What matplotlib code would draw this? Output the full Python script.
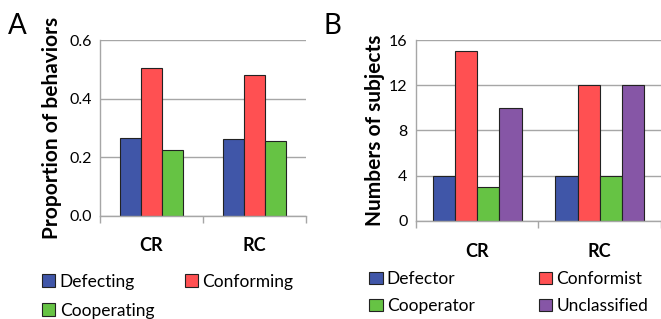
import numpy as np
import matplotlib.pyplot as plt

plt.rcParams['font.family'] = ['Lato', 'DejaVu Sans']

# data
groups = ['CR', 'RC']
behaviors = ['Defecting', 'Conforming', 'Cooperating']
proportions = {
    'Defecting': [0.267, 0.263],
    'Conforming': [0.506, 0.480],
    'Cooperating': [0.226, 0.255],
}
types = ['Defector', 'Conformist', 'Cooperator', 'Unclassified']
subjects = {
    'Defector': [4, 4],
    'Conformist': [15, 12],
    'Cooperator': [3, 4],
    'Unclassified': [10, 12],
}

blue = '#4056A8'
red = '#FF5052'
green = '#66C344'
purple = '#8656A6'
grid_c = '#A6A6A6'

fig = plt.figure(figsize=(6.61, 3.19), dpi=100)
axA = fig.add_axes([0.1513, 0.3229, 0.3117, 0.5517])
axB = fig.add_axes([0.6293, 0.3080, 0.3707, 0.5665])


def style(ax):
    ax.set_axisbelow(True)
    ax.yaxis.grid(True, color=grid_c, lw=1)
    for s in ['top', 'right']:
        ax.spines[s].set_visible(False)
    for s in ['left', 'bottom']:
        ax.spines[s].set_color(grid_c)
        ax.spines[s].set_linewidth(1)
    ax.tick_params(axis='y', length=0, labelsize=11.5, pad=6)
    ax.set_xlim(-0.5, 1.5)
    ax.set_xticks([-0.5, 0.5, 1.5])
    ax.set_xticklabels([])
    ax.tick_params(axis='x', length=5, color=grid_c, width=1)
    for xi, g in enumerate(groups):
        ax.text(xi, -0.17, g, transform=ax.get_xaxis_transform(),
                ha='center', va='center', fontsize=13, fontweight='bold')


x = np.arange(len(groups))

# panel A
w = 0.204
colsA = [blue, red, green]
barsA = {}
for i, (b, c) in enumerate(zip(behaviors, colsA)):
    barsA[b] = axA.bar(x + (i - 1) * w, proportions[b], w, color=c,
                       edgecolor='#222222', lw=0.8, label=b)
axA.set_ylim(0, 0.6)
axA.set_yticks([0, 0.2, 0.4, 0.6])
axA.set_yticklabels(['0.0', '0.2', '0.4', '0.6'])
style(axA)
axA.set_ylabel('Proportion of behaviors', fontsize=15, fontweight='bold', labelpad=5)

# panel B
wb = 0.181
colsB = [blue, red, green, purple]
barsB = {}
for i, (t, c) in enumerate(zip(types, colsB)):
    barsB[t] = axB.bar(x + (i - 1.5) * wb, subjects[t], wb, color=c,
                       edgecolor='#222222', lw=0.8, label=t)
axB.set_ylim(0, 16)
axB.set_yticks([0, 4, 8, 12, 16])
style(axB)
axB.set_ylabel('Numbers of subjects', fontsize=15, fontweight='bold', labelpad=3)

# legends (row-wise order)
legkw = dict(frameon=False, ncol=2, fontsize=12.5, handlelength=0.75,
             handleheight=0.75, handletextpad=0.25,
             borderaxespad=0, borderpad=0)
fig.legend([barsA['Defecting'], barsA['Cooperating'], barsA['Conforming']],
           ['Defecting', 'Cooperating', 'Conforming'],
           loc='upper left', bbox_to_anchor=(0.064, 0.142),
           columnspacing=1.75, labelspacing=0.75, **legkw)
fig.legend([barsB['Defector'], barsB['Cooperator'], barsB['Conformist'], barsB['Unclassified']],
           ['Defector', 'Cooperator', 'Conformist', 'Unclassified'],
           loc='upper left', bbox_to_anchor=(0.559, 0.150),
           columnspacing=3.7, labelspacing=0.62, **legkw)

fig.text(0.012, 0.92, 'A', fontsize=20, va='center', ha='left')
fig.text(0.490, 0.92, 'B', fontsize=20, va='center', ha='left')

fig.savefig('out.png', dpi=100)
